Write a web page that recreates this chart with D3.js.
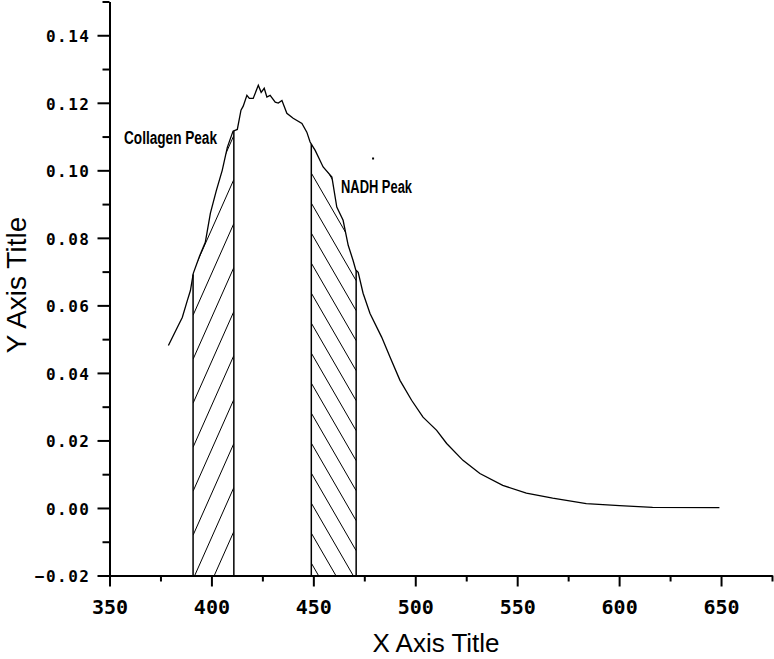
<!DOCTYPE html>
<html>
<head>
<meta charset="utf-8">
<script src="https://cdn.jsdelivr.net/npm/d3@7"></script>
<style>
  body { margin: 0; background: #fff; }
  svg { display: block; }
  .tickLabel { font-family: "DejaVu Sans Mono", monospace; font-weight: bold; fill: #000; }
  .axisText { font-family: "Liberation Sans", Arial, sans-serif; fill: #000; }
  .peakText { font-family: "Liberation Sans Narrow", "Liberation Sans", sans-serif; fill: #000; }
</style>
</head>
<body>
<div id="chart"></div>
<script>
// Spectrum
var wavelength = [378.9, 383.8, 385.7, 388.2, 389.7, 391.1, 394.1, 397.0, 399.5, 402.4,
  405.3, 407.8, 410.6, 412.7, 414.5, 415.6, 417.4, 418.6, 420.5, 423.0,
  424.4, 425.9, 427.2, 428.8, 431.3, 432.8, 434.6, 437.0, 440.1, 444.4,
  446.8, 448.4, 450.9, 454.8, 459.1, 461.5, 464.6, 467.1, 469.5, 470.8,
  472.0, 474.4, 477.8, 483.5, 487.6, 492.5, 498.2, 503.8, 510.5, 515.4,
  523.4, 531.7, 542.9, 554.5, 567.4, 583.9, 600.2, 616.4, 649.2];
var absorbance = [0.0481, 0.0541, 0.0564, 0.0615, 0.0644, 0.0695, 0.0745, 0.0787, 0.0873, 0.094,
  0.100, 0.1068, 0.1116, 0.1121, 0.1178, 0.119, 0.1222, 0.1213, 0.1213, 0.1252,
  0.1231, 0.1243, 0.1217, 0.1222, 0.1202, 0.1199, 0.1207, 0.1169, 0.1154, 0.1139,
  0.1113, 0.1084, 0.1059, 0.101, 0.098, 0.0891, 0.0852, 0.0778, 0.0733, 0.0705,
  0.0698, 0.0636, 0.0576, 0.0506, 0.0447, 0.0378, 0.0319, 0.0269, 0.023, 0.0191,
  0.0141, 0.0102, 0.0067, 0.0044, 0.0029, 0.0013, 0.0007, 0.0002, 0.0001];

var collagenBand = [391, 411];
var nadhBand = [449, 471];
var strayPoint = [479.3, 0.1035];

var xTicks = [350, 400, 450, 500, 550, 600, 650];
var xMinorTicks = [375, 425, 475, 525, 575, 625, 675];
var yTicks = [-0.02, 0.00, 0.02, 0.04, 0.06, 0.08, 0.10, 0.12, 0.14];
var yMinorTicks = [-0.01, 0.01, 0.03, 0.05, 0.07, 0.09, 0.11, 0.13, 0.15];

var svgWidth = 774;
var svgHeight = 659;

var svg = d3.select("#chart")
  .append("svg")
  .attr("width", svgWidth)
  .attr("height", svgHeight);

var xScale = d3.scaleLinear().domain([350, 675]).range([109.5, 772]);
var yScale = d3.scaleLinear().domain([-0.02, 0.15]).range([575.5, 1.5]);

var points = wavelength.map((w, i) => ({ x: w, y: absorbance[i] }));

// value of the curve at a given wavelength
function curveAt(w) {
  var i = d3.bisector(d => d.x).left(points, w);
  if (i <= 0) return points[0].y;
  if (i >= points.length) return points[points.length - 1].y;
  var a = points[i - 1], b = points[i];
  return a.y + (b.y - a.y) * (w - a.x) / (b.x - a.x);
}

var defs = svg.append("defs");

var area = d3.area()
  .x(d => xScale(d.x))
  .y0(yScale(-0.02))
  .y1(d => yScale(d.y));

// hatched bands: slope = pixel rise per pixel across, gap = vertical spacing
function hatchBand(band, clipId, slope, gap) {
  var x0 = xScale(band[0]), x1 = xScale(band[1]);
  var clip = defs.append("clipPath").attr("id", clipId);
  clip.append("path").datum(points).attr("d", area);

  var g = svg.append("g").attr("clip-path", `url(#${clipId})`)
    .append("g").attr("clip-path", `url(#${clipId}r)`);
  defs.append("clipPath").attr("id", clipId + "r")
    .append("rect")
    .attr("x", x0).attr("y", 0)
    .attr("width", x1 - x0).attr("height", svgHeight);

  var rise = (x1 - x0) * slope;
  var yb = yScale(-0.02);
  var offsets = d3.range(-Math.abs(rise) - gap, yb, gap);
  g.selectAll("line")
    .data(offsets)
    .enter()
    .append("line")
    .attr("x1", x0)
    .attr("x2", x1)
    .attr("y1", d => yb - d)
    .attr("y2", d => yb - d - rise)
    .attr("stroke", "#000")
    .attr("stroke-width", 1);

  svg.selectAll(null)
    .data(band)
    .enter()
    .append("line")
    .attr("x1", d => xScale(d))
    .attr("x2", d => xScale(d))
    .attr("y1", d => yScale(curveAt(d)))
    .attr("y2", yScale(-0.02))
    .attr("stroke", "#000")
    .attr("stroke-width", 1.5);
}
hatchBand(collagenBand, "clipCollagen", 2.25, 44);
hatchBand(nadhBand, "clipNadh", -1.73, 30);

// spectrum line
var line = d3.line()
  .x(d => xScale(d.x))
  .y(d => yScale(d.y));

svg.append("path")
  .datum(points)
  .attr("d", line)
  .attr("fill", "none")
  .attr("stroke", "#000")
  .attr("stroke-width", 1.3);

svg.append("rect")
  .attr("x", xScale(strayPoint[0]) - 1)
  .attr("y", yScale(strayPoint[1]) - 1)
  .attr("width", 2)
  .attr("height", 2)
  .attr("fill", "#000");

// axes
var bottomAxis = d3.axisBottom(xScale).tickValues(xTicks).tickSizeInner(11).tickSizeOuter(0).tickFormat(d3.format("d"));
var bottomMinor = d3.axisBottom(xScale).tickValues(xMinorTicks).tickSizeInner(6).tickSizeOuter(0).tickFormat("");
var leftAxis = d3.axisLeft(yScale).tickValues(yTicks).tickSizeInner(12).tickSizeOuter(0).tickFormat(d3.format(".2f"));
var leftMinor = d3.axisLeft(yScale).tickValues(yMinorTicks).tickSizeInner(7).tickSizeOuter(0).tickFormat("");

var xg = svg.append("g").attr("transform", `translate(0, ${yScale(-0.02)})`).call(bottomAxis);
svg.append("g").attr("transform", `translate(0, ${yScale(-0.02)})`).call(bottomMinor);
var yg = svg.append("g").attr("transform", `translate(${xScale(350)}, 0)`).call(leftAxis);
svg.append("g").attr("transform", `translate(${xScale(350)}, 0)`).call(leftMinor);

svg.selectAll(".domain").attr("stroke", "#000").attr("stroke-width", 2);
svg.selectAll(".tick line").attr("stroke", "#000").attr("stroke-width", 2);

xg.selectAll(".tick text")
  .attr("class", "tickLabel")
  .attr("y", 24)
  .attr("dy", "0.71em")
  .style("font-size", "20px");

yg.selectAll(".tick text")
  .attr("class", "tickLabel")
  .attr("x", -19)
  .attr("dy", "0.4em")
  .style("font-size", "16px")
  .style("letter-spacing", "1.5px");

// axis titles
svg.append("text")
  .attr("class", "axisText")
  .attr("x", 436)
  .attr("y", 652)
  .attr("text-anchor", "middle")
  .style("font-size", "26px")
  .text("X Axis Title");

svg.append("text")
  .attr("class", "axisText")
  .attr("transform", "translate(26, 285) rotate(-90)")
  .attr("text-anchor", "middle")
  .style("font-size", "28px")
  .text("Y Axis Title");

// peak labels
svg.append("text")
  .attr("class", "peakText")
  .attr("x", 124)
  .attr("y", 144)
  .attr("textLength", 93)
  .attr("lengthAdjust", "spacingAndGlyphs")
  .style("font-size", "18px")
  .style("font-weight", "bold")
  .text("Collagen Peak");

svg.append("text")
  .attr("class", "peakText")
  .attr("x", 341)
  .attr("y", 193)
  .attr("textLength", 71)
  .attr("lengthAdjust", "spacingAndGlyphs")
  .style("font-size", "18px")
  .style("font-weight", "bold")
  .text("NADH Peak");
</script>
</body>
</html>
